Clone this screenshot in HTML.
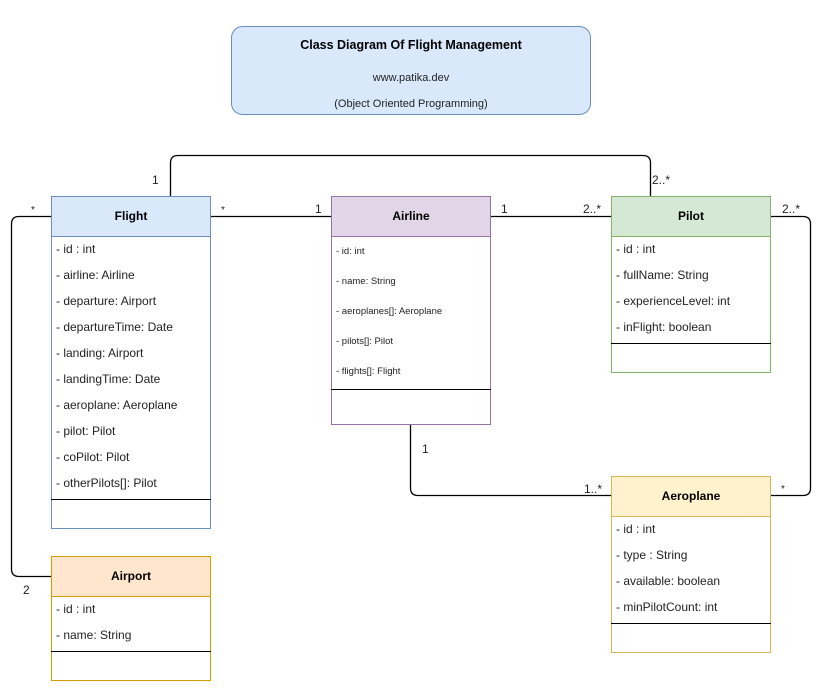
<!DOCTYPE html>
<html><head><meta charset="utf-8"><style>
html,body{margin:0;padding:0;background:#fff;}
svg{display:block;font-family:"Liberation Sans",Arial,sans-serif;}
</style></head><body>
<svg width="822" height="694" viewBox="0 0 822 694" xmlns="http://www.w3.org/2000/svg">
<g fill="none" stroke="#000" stroke-width="1.3">
<path d="M170.5 196 V163 Q170.5 155.5 178 155.5 H643 Q650.5 155.5 650.5 163 V196"/>
<path d="M211 216.5 H331"/>
<path d="M491 216.5 H611"/>
<path d="M51 216.5 H19 Q11.5 216.5 11.5 224 V569 Q11.5 576.5 19 576.5 H51"/>
<path d="M410.5 425 V488 Q410.5 495.5 418 495.5 H611"/>
<path d="M771 216.5 H803 Q810.5 216.5 810.5 224 V488 Q810.5 495.5 803 495.5 H771"/>
</g>
<rect x="231.5" y="26.5" width="359" height="88" rx="11" fill="#dae8fc" stroke="#6c8ebf"/>
<text x="411" y="49" text-anchor="middle" font-size="12.5" font-weight="bold" fill="#000">Class Diagram Of Flight Management</text>
<text x="411" y="81" text-anchor="middle" font-size="11" fill="#222">www.patika.dev</text>
<text x="411" y="107" text-anchor="middle" font-size="11" fill="#222">(Object Oriented Programming)</text>

<!-- Flight -->
<rect x="51.5" y="196.5" width="159" height="332" fill="#fff" stroke="#6c8ebf"/>
<rect x="51.5" y="196.5" width="159" height="40" fill="#dae8fc" stroke="#6c8ebf"/>
<text x="131" y="220" text-anchor="middle" font-size="12" font-weight="bold">Flight</text>
<g font-size="12" fill="#222">
<text x="56" y="253">- id : int</text>
<text x="56" y="279">- airline: Airline</text>
<text x="56" y="305">- departure: Airport</text>
<text x="56" y="331">- departureTime: Date</text>
<text x="56" y="357">- landing: Airport</text>
<text x="56" y="383">- landingTime: Date</text>
<text x="56" y="409">- aeroplane: Aeroplane</text>
<text x="56" y="435">- pilot: Pilot</text>
<text x="56" y="461">- coPilot: Pilot</text>
<text x="56" y="487">- otherPilots[]: Pilot</text>
</g>
<line x1="51" y1="499.5" x2="211" y2="499.5" stroke="#000"/>

<!-- Airline -->
<rect x="331.5" y="196.5" width="159" height="228" fill="#fff" stroke="#9673a6"/>
<rect x="331.5" y="196.5" width="159" height="40" fill="#e1d5e7" stroke="#9673a6"/>
<text x="411" y="220" text-anchor="middle" font-size="12" font-weight="bold">Airline</text>
<g font-size="9.5" fill="#222">
<text x="336" y="254">- id: int</text>
<text x="336" y="284">- name: String</text>
<text x="336" y="314">- aeroplanes[]: Aeroplane</text>
<text x="336" y="344">- pilots[]: Pilot</text>
<text x="336" y="374">- flights[]: Flight</text>
</g>
<line x1="331" y1="389.5" x2="491" y2="389.5" stroke="#000"/>

<!-- Pilot -->
<rect x="611.5" y="196.5" width="159" height="176" fill="#fff" stroke="#82b366"/>
<rect x="611.5" y="196.5" width="159" height="40" fill="#d5e8d4" stroke="#82b366"/>
<text x="691" y="220" text-anchor="middle" font-size="12" font-weight="bold">Pilot</text>
<g font-size="12" fill="#222">
<text x="616" y="253">- id : int</text>
<text x="616" y="279">- fullName: String</text>
<text x="616" y="305">- experienceLevel: int</text>
<text x="616" y="331">- inFlight: boolean</text>
</g>
<line x1="611" y1="343.5" x2="771" y2="343.5" stroke="#000"/>

<!-- Aeroplane -->
<rect x="611.5" y="476.5" width="159" height="176" fill="#fff" stroke="#d6b656"/>
<rect x="611.5" y="476.5" width="159" height="40" fill="#fff2cc" stroke="#d6b656"/>
<text x="691" y="500" text-anchor="middle" font-size="12" font-weight="bold">Aeroplane</text>
<g font-size="12" fill="#222">
<text x="616" y="533">- id : int</text>
<text x="616" y="559">- type : String</text>
<text x="616" y="585">- available: boolean</text>
<text x="616" y="611">- minPilotCount: int</text>
</g>
<line x1="611" y1="623.5" x2="771" y2="623.5" stroke="#000"/>

<!-- Airport -->
<rect x="51.5" y="556.5" width="159" height="124" fill="#fff" stroke="#d79b00"/>
<rect x="51.5" y="556.5" width="159" height="40" fill="#ffe6cc" stroke="#d79b00"/>
<text x="131" y="580" text-anchor="middle" font-size="12" font-weight="bold">Airport</text>
<g font-size="12" fill="#222">
<text x="56" y="613">- id : int</text>
<text x="56" y="639">- name: String</text>
</g>
<line x1="51" y1="651.5" x2="211" y2="651.5" stroke="#000"/>

<!-- labels -->
<g font-size="12" fill="#222">
<text x="152" y="184">1</text>
<text x="652" y="184">2..*</text>
<text x="31" y="213" font-size="10">*</text>
<text x="221" y="213" font-size="10">*</text>
<text x="315" y="213">1</text>
<text x="501" y="213">1</text>
<text x="583" y="213">2..*</text>
<text x="782" y="213">2..*</text>
<text x="23" y="594">2</text>
<text x="422" y="453">1</text>
<text x="584" y="493">1..*</text>
<text x="781" y="492" font-size="10">*</text>
</g>
</svg>
</body></html>
